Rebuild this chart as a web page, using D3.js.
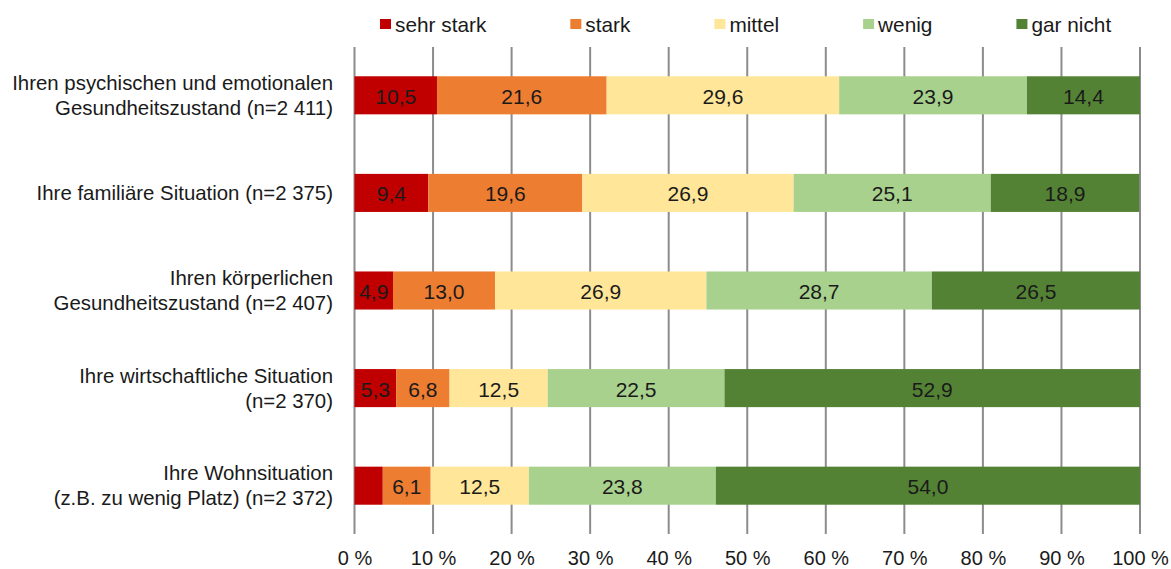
<!DOCTYPE html>
<html><head><meta charset="utf-8">
<script src="https://cdn.jsdelivr.net/npm/d3@7"></script>
<style>
body{margin:0;background:#fff;}
text{font-family:"Liberation Sans",Arial,Helvetica,sans-serif;fill:#1a1a1a;}
</style></head>
<body><svg id="chart" width="1171" height="569"></svg>
<script>
const categories = [
  ["Ihren psychischen und emotionalen","Gesundheitszustand (n=2 411)"],
  ["Ihre familiäre Situation (n=2 375)"],
  ["Ihren körperlichen","Gesundheitszustand (n=2 407)"],
  ["Ihre wirtschaftliche Situation","(n=2 370)"],
  ["Ihre Wohnsituation","(z.B. zu wenig Platz) (n=2 372)"]
];
const seriesNames = ["sehr stark","stark","mittel","wenig","gar nicht"];
const sehrStark = [10.5, 9.4, 4.9, 5.3, 3.6];
const stark     = [21.6, 19.6, 13.0, 6.8, 6.1];
const mittel    = [29.6, 26.9, 26.9, 12.5, 12.5];
const wenig     = [23.9, 25.1, 28.7, 22.5, 23.8];
const garNicht  = [14.4, 18.9, 26.5, 52.9, 54.0];
const showLabel = [[1,1,1,1,1],[1,1,1,1,1],[1,1,1,1,1],[1,1,1,1,1],[0,1,1,1,1]];
const tickValues = [0,10,20,30,40,50,60,70,80,90,100];
const colors = ["#C00000","#ED7D31","#FFE699","#A9D18E","#548235"];

(function(){
const series = [sehrStark, stark, mittel, wenig, garNicht];
const svg = d3.select("#chart");
const pLeft = 354.5, pRight = 1140, pTop = 47, pBottom = 534;

const x = d3.scaleLinear().domain([0,100]).range([pLeft,pRight]);
const y = d3.scaleBand().domain(d3.range(categories.length)).range([pTop,pBottom]).paddingInner(0.61).paddingOuter(0.3);

svg.append("g").selectAll("line").data(tickValues).join("line")
  .attr("x1", d=>x(d)).attr("x2", d=>x(d)).attr("y1", pTop).attr("y2", pBottom)
  .attr("stroke","#8c8c8c").attr("stroke-width",2);

const rows = categories.map((c,i)=>{
  let acc = 0;
  return series.map((s,j)=>{ const v=s[i]; const r={i,j,x0:acc,x1:acc+v,v}; acc+=v; return r; });
});
const flat = rows.flat();
svg.append("g").selectAll("rect").data(flat).join("rect")
  .attr("x", d=>x(d.x0)).attr("width", d=>x(d.x1)-x(d.x0))
  .attr("y", d=>y(d.i)).attr("height", y.bandwidth())
  .attr("fill", d=>colors[d.j]);

svg.append("g").selectAll("text").data(flat.filter(d=>showLabel[d.i][d.j])).join("text")
  .attr("x", d=>x((d.x0+d.x1)/2)).attr("y", d=>y(d.i)+y.bandwidth()/2+1)
  .attr("text-anchor","middle").attr("dominant-baseline","central")
  .attr("font-size",21)
  .text(d=>d.v.toFixed(1).replace(".",","));

const cat = svg.append("g").selectAll("text").data(categories).join("text")
  .attr("text-anchor","end").attr("font-size",20.4)
  .attr("transform",(d,i)=>`translate(333,${y(i)+y.bandwidth()/2})`);
cat.each(function(lines){
  const t = d3.select(this);
  const lh = 25;
  lines.forEach((l,k)=>{
    t.append("tspan").attr("x",0).attr("y", (-(lines.length-1)*lh/2) + k*lh)
     .attr("dominant-baseline","central").text(l);
  });
});

const xAxis = d3.axisBottom(x).tickValues(tickValues).tickFormat(d=>d+" %").tickSize(0).tickPadding(0);
const ax = svg.append("g").attr("transform",`translate(0,${pBottom})`).call(xAxis);
ax.select(".domain").remove();
ax.selectAll("text").attr("font-size",20).attr("dy",null).attr("y",24).attr("dominant-baseline","central").style("fill","#1a1a1a")
  .style("font-family",'"Liberation Sans",Arial,sans-serif');

const lg = svg.append("g").attr("transform","translate(380,24)");
let lx = 0;
seriesNames.forEach((n,j)=>{
  const g = lg.append("g").attr("transform",`translate(${lx},0)`);
  g.append("rect").attr("x",0).attr("y",-5).attr("width",11).attr("height",10).attr("fill",colors[j]);
  const t = g.append("text").attr("x",15).attr("y",0).attr("dominant-baseline","central").attr("font-size",20.8).text(n);
  lx += 15 + t.node().getComputedTextLength() + 84;
});
})();
</script></body></html>
